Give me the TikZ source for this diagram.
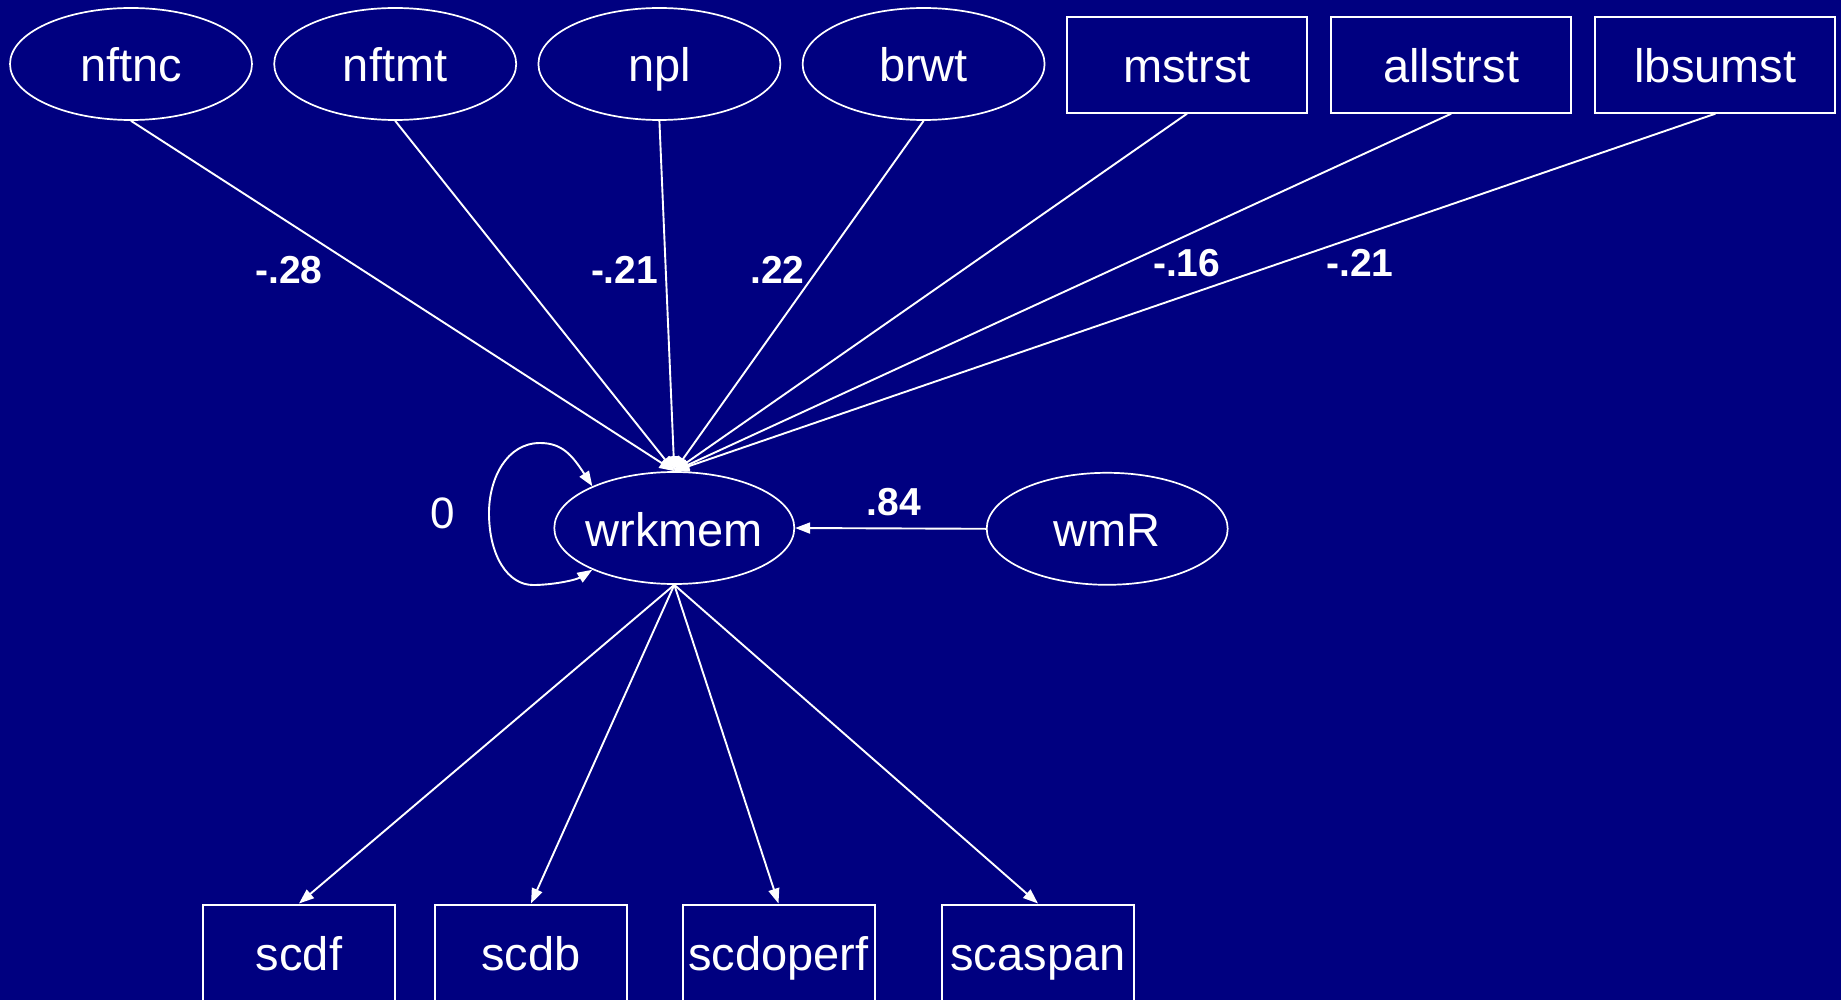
\documentclass[tikz,border=0pt]{standalone}
\usepackage{fontspec}
\setmainfont{Liberation Sans}
\usetikzlibrary{shapes.geometric,arrows.meta}
\definecolor{navybg}{RGB}{0,0,128}
\tikzset{
  nodetext/.style={text=white,font=\fontsize{47}{50}\selectfont,
    text height=36pt,text depth=0pt},
  latent/.style={ellipse,draw=white,line width=1.7pt,nodetext,
    minimum width=242pt,minimum height=112pt,inner sep=0pt,inner xsep=-20pt},
  observed/.style={rectangle,draw=white,line width=2pt,nodetext,
    minimum width=240pt,minimum height=96pt,inner sep=0pt},
  lowbox/.style={observed,minimum width=192pt},
  path/.style={draw=white,line width=1.9pt,-{Triangle[length=15pt,width=11pt]}},
  twoway/.style={draw=white,line width=1.9pt,
    {Triangle[length=15pt,width=11pt]}-{Triangle[length=15pt,width=11pt]}},
  coef/.style={text=white,font=\fontsize{39}{42}\selectfont\bfseries},
  varlabel/.style={text=white,font=\fontsize{44}{46}\selectfont},
}
\begin{document}
\begin{tikzpicture}[x=1pt,y=-1pt]
\useasboundingbox (0,0) rectangle (1841,1000);
\fill[navybg] (0,0) rectangle (1841,1000);

% predictors
\node[latent] (nftnc) at (131,64) {nftnc};
\node[latent] (nftmt) at (395.2,64) {nftmt};
\node[latent] (npl) at (659.4,64) {npl};
\node[latent] (brwt) at (923.6,64) {brwt};
\node[observed] (mstrst) at (1187,64.7) {mstrst};
\node[observed] (allstrst) at (1451.2,64.7) {allstrst};
\node[observed] (lbsumst) at (1715.4,64.7) {lbsumst};

% latent factor and residual
\node[latent,minimum width=240pt] (wrkmem) at (674.3,528) {wrkmem};
\node[latent,minimum width=241pt] (wmR) at (1107.2,528.8) {wmR};

% indicators
\node[lowbox] (scdf) at (299,952.5) {scdf};
\node[lowbox] (scdb) at (531,952.5) {scdb};
\node[lowbox] (scdoperf) at (778.5,952.5) {scdoperf};
\node[lowbox] (scaspan) at (1038,952.5) {scaspan};

% structural paths
\foreach \src in {nftnc,nftmt,npl,brwt,mstrst,allstrst,lbsumst}
  \draw[path] (\src.south) -- (wrkmem.north);
\draw[path] (wmR.west) -- (wrkmem.east);

% measurement paths
\foreach \dst in {scdf,scdb,scdoperf,scaspan}
  \draw[path] (wrkmem.south) -- (\dst.north);

% variance loop
\draw[twoway] (wrkmem.153) .. controls (572,455) and (562,443) .. (540,443)
  .. controls (507,443) and (489,478) .. (489,513)
  .. controls (489,556) and (508,585) .. (533,585)
  .. controls (553,585) and (576,580) .. (wrkmem.207);
\node[varlabel] (varzero) at (443,513) {0};

% coefficients
\node[coef] (c1) at (289,270) {-.28};
\node[coef] (c2) at (624.6,270) {-.21};
\node[coef] (c3) at (777.3,270) {.22};
\node[coef] (c4) at (1186.7,263) {-.16};
\node[coef] (c5) at (1360,263) {-.21};
\node[coef] (c6) at (894,502) {.84};
\end{tikzpicture}
\end{document}
